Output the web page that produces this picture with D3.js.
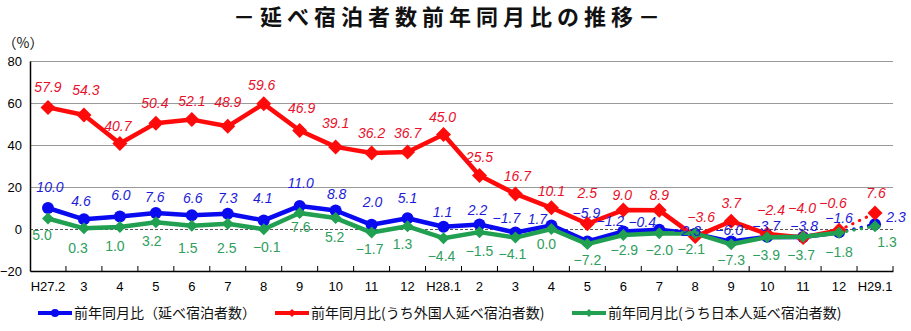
<!DOCTYPE html>
<html>
<head>
<meta charset="utf-8">
<script src="https://cdn.jsdelivr.net/npm/d3@7"></script>
<style>
  html, body { margin: 0; padding: 0; background: #fff; }
  svg { display: block; }
</style>
</head>
<body>
<svg id="chart" width="911" height="331"></svg>
<script>
// ---- data ----
const categories = ["H27.2","3","4","5","6","7","8","9","10","11","12","H28.1","2","3","4","5","6","7","8","9","10","11","12","H29.1"];
const totalYoY    = [10.0, 4.6, 6.0, 7.6, 6.6, 7.3, 4.1, 11.0, 8.8, 2.0, 5.1, 1.1, 2.2, -1.7, 1.7, -5.9, -1.2, -0.4, -2.3, -6.0, -3.7, -3.8, -1.6, 2.3];
const foreignYoY  = [57.9, 54.3, 40.7, 50.4, 52.1, 48.9, 59.6, 46.9, 39.1, 36.2, 36.7, 45.0, 25.5, 16.7, 10.1, 2.5, 9.0, 8.9, -3.6, 3.7, -2.4, -4.0, -0.6, 7.6];
const japaneseYoY = [5.0, 0.3, 1.0, 3.2, 1.5, 2.5, -0.1, 7.6, 5.2, -1.7, 1.3, -4.4, -1.5, -4.1, 0.0, -7.2, -2.9, -2.0, -2.1, -7.3, -3.9, -3.7, -1.8, 1.3];
const yTicks = [-20, 0, 20, 40, 60, 80];
const seriesNames = ["前年同月比（延べ宿泊者数）", "前年同月比(うち外国人延べ宿泊者数)", "前年同月比(うち日本人延べ宿泊者数)"];
const titleText = "－延べ宿泊者数前年同月比の推移－";
const unitText = "（%）";

// ---- label placement (layout only: [dx, dy] of label centre from point) ----
const blueLabelOffsets = [[2,-21],[-3,-18],[1,-21],[-1,-16],[1,-17],[0,-16],[-1,-22],[1,-23],[1,-16],[1,-23],[0,-20],[-1,-15],[-2,-14],[-9,-14],[-14,-6],[-1,-28],[-13,-10],[-17,-8],[-8,-3],[-2,-12],[-1,-11],[1,-11],[0,-14],[21,-7]];
const redLabelOffsets  = [[0,-20],[2,-25],[-2,-17],[-1,-20],[0,-18],[0,-24],[-2,-19],[2,-22],[0,-24],[0,-20],[0,-19],[-1,-17],[0,-18],[2,-18],[0,-17],[0,-31],[-1,-15],[0,-15],[6,-19],[0,-18],[4,-24],[-1,-29],[-6,-27],[1,-20]];
const greenLabelOffsets= [[-6,17],[-6,20],[-5,19],[-4,19],[-4,22],[-1,24],[3,18],[1,14],[-1,19],[-2,17],[-5,18],[-2,18],[0,19],[-3,16],[-5,15],[0,16],[1,15],[0,17],[-4,16],[0,16],[-1,18],[-2,18],[0,19],[12,16]];

(function () {
const BLUE = "#0a0af0", RED = "#ff0a0a", GREEN = "#20a050";
const BLUE_T = "#1c1cd8", RED_T = "#e8102a", GREEN_T = "#2f9e5c";
const numFont = "'Liberation Sans', Arial, sans-serif";
const jpFont = "'Noto Sans CJK JP', 'Noto Sans', sans-serif";

const svg = d3.select("#chart");
const pL = 30, pR = 893, pT = 61, pB = 271;

const x = d3.scaleBand().domain(d3.range(categories.length)).range([pL, pR]).padding(0);
const cx = i => x(i) + x.bandwidth() / 2;
const y = d3.scaleLinear().domain([-20, 80]).range([pB, pT]);

// Title
svg.append("text")
  .attr("x", 233).attr("y", 17).attr("dy", "0.35em")
  .attr("font-family", jpFont).attr("font-weight", "bold")
  .attr("font-size", 22).attr("letter-spacing", "5px")
  .attr("fill", "#111")
  .text(titleText);

// unit
svg.append("text")
  .attr("x", 23).attr("y", 43).attr("dy", "0.35em")
  .attr("text-anchor", "middle")
  .attr("font-family", "'Noto Sans CJK JP'").attr("font-size", 14).attr("fill", "#111")
  .text(unitText);

// Gridlines
const grid = svg.append("g")
  .attr("transform", `translate(${pL},0)`)
  .call(d3.axisLeft(y).tickValues(yTicks.filter(v => v !== -20)).tickSize(-(pR - pL)).tickFormat(""));
grid.select(".domain").remove();
grid.selectAll(".tick line")
  .attr("stroke", d => d === 0 ? "#555" : "#9a9a9a")
  .attr("stroke-width", 1)
  .attr("stroke-dasharray", d => d === 0 ? "3,2" : null);

// Y axis
const yAxis = svg.append("g")
  .attr("transform", `translate(${pL},0)`)
  .call(d3.axisLeft(y).tickValues(yTicks).tickSize(0).tickPadding(8).tickFormat(d3.format("d")));
yAxis.select(".domain").attr("stroke", "#000").attr("stroke-width", 1.5);
yAxis.selectAll("text").attr("font-family", numFont).attr("font-size", 13).attr("fill", "#000");

// X axis
const xAxis = svg.append("g")
  .attr("transform", `translate(0,${pB})`)
  .call(d3.axisBottom(x).tickSize(0).tickPadding(11).tickFormat(i => categories[i]));
xAxis.select(".domain").attr("stroke", "#000").attr("stroke-width", 1.5);
xAxis.selectAll("text").attr("font-family", numFont).attr("font-size", 13).attr("fill", "#000");
// inward tick marks at category boundaries
svg.append("g").selectAll("line")
  .data(d3.range(1, categories.length + 1))
  .join("line")
  .attr("x1", i => i < categories.length ? x(i) : pR)
  .attr("x2", i => i < categories.length ? x(i) : pR)
  .attr("y1", pB).attr("y2", pB - 5)
  .attr("stroke", "#000").attr("stroke-width", 1);

const line = d3.line().x(d => cx(d.i)).y(d => y(d.v));
function drawSeries(values, color, width) {
  const pts = values.map((v, i) => ({ v, i }));
  const n = pts.length;
  const g = svg.append("g");
  g.append("path").datum(pts.slice(0, n - 1))
    .attr("d", line).attr("fill", "none")
    .attr("stroke", color).attr("stroke-width", width).attr("stroke-linejoin", "round");
  g.append("path").datum(pts.slice(n - 2))
    .attr("d", line).attr("fill", "none")
    .attr("stroke", color).attr("stroke-width", 3)
    .attr("stroke-linecap", "round").attr("stroke-dasharray", "0.5,7");
  return { g, pts };
}
function drawMarkers(s, color, marker) {
  if (marker === "circle") {
    s.g.selectAll("circle").data(s.pts).join("circle")
      .attr("cx", d => cx(d.i)).attr("cy", d => y(d.v)).attr("r", 6)
      .attr("fill", color);
  } else {
    const sz = marker === "bigDiamond" ? 7.5 : 6;
    s.g.selectAll("path.mk").data(s.pts).join("path").attr("class", "mk")
      .attr("d", d => { const px = cx(d.i), py = y(d.v); return `M${px},${py - sz}L${px + sz},${py}L${px},${py + sz}L${px - sz},${py}Z`; })
      .attr("fill", color);
  }
}
const fmt = v => (v < 0 ? "−" : "") + Math.abs(v).toFixed(1);
function drawLabels(s, color, italic, offsets) {
  svg.append("g").selectAll("text").data(s.pts).join("text")
    .attr("x", d => cx(d.i) + offsets[d.i][0])
    .attr("y", d => y(d.v) + offsets[d.i][1])
    .attr("dy", "0.35em")
    .attr("text-anchor", "middle")
    .attr("font-family", numFont).attr("font-size", 14)
    .attr("font-style", italic ? "italic" : "normal")
    .attr("fill", color)
    .text(d => fmt(d.v));
}

const sBlue = drawSeries(totalYoY, BLUE, 4.5);
drawMarkers(sBlue, BLUE, "circle");
const sRed = drawSeries(foreignYoY, RED, 4.5);
drawMarkers(sRed, RED, "bigDiamond");
const sGreen = drawSeries(japaneseYoY, GREEN, 4.5);
drawMarkers(sGreen, GREEN, "diamond");

drawLabels(sRed, RED_T, true, redLabelOffsets);
drawLabels(sBlue, BLUE_T, true, blueLabelOffsets);
drawLabels(sGreen, GREEN_T, false, greenLabelOffsets);

// Legend
const legendItems = [
  { name: seriesNames[0], color: BLUE, x0: 38, mk: "circle" },
  { name: seriesNames[1], color: RED, x0: 275, mk: "diamond" },
  { name: seriesNames[2], color: GREEN, x0: 572, mk: "diamond" }
];
const lg = svg.append("g");
const ly = 313;
legendItems.forEach(it => {
  lg.append("line").attr("x1", it.x0).attr("x2", it.x0 + 34).attr("y1", ly).attr("y2", ly)
    .attr("stroke", it.color).attr("stroke-width", 4);
  const mx = it.x0 + 17;
  if (it.mk === "circle") {
    lg.append("circle").attr("cx", mx).attr("cy", ly).attr("r", 4).attr("fill", it.color);
  } else {
    lg.append("path").attr("d", `M${mx},${ly - 4}L${mx + 4},${ly}L${mx},${ly + 4}L${mx - 4},${ly}Z`).attr("fill", it.color);
  }
  lg.append("text").attr("x", it.x0 + 36).attr("y", ly).attr("dy", "0.35em")
    .attr("font-family", jpFont).attr("font-size", 14).attr("fill", "#111")
    .text(it.name);
});
})();
</script>
</body>
</html>
